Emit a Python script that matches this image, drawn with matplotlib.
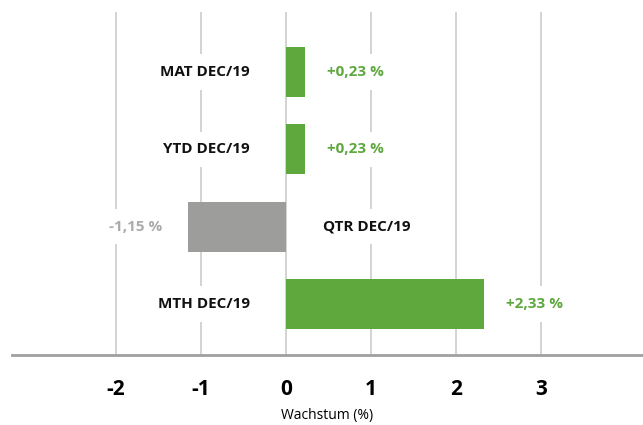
import matplotlib
matplotlib.use("Agg")
import matplotlib.pyplot as plt

categories = ["MTH DEC/19", "QTR DEC/19", "YTD DEC/19", "MAT DEC/19"]
values = [2.33, -1.15, 0.23, 0.23]
value_labels = ["+2,33 %", "-1,15 %", "+0,23 %", "+0,23 %"]
xticks = [-2, -1, 0, 1, 2, 3]
xlabel = "Wachstum (%)"

GREEN = "#5ea83e"
GRAY_BAR = "#9d9d9c"
GRAY_TXT = "#ababab"
GRID = "#c8c8c8"

plt.rcParams['font.family'] = ['Open Sans', 'DejaVu Sans']

fig = plt.figure(figsize=(6.43, 4.25), dpi=100)
ax = fig.add_axes([12/643, 1-355/425, 1-12/643, (355-12)/425])

ypos = list(range(len(categories)))
colors = [GREEN if v >= 0 else GRAY_BAR for v in values]
ax.barh(ypos, values, height=0.65, color=colors, zorder=2)

ax.set_xlim(-3.22, 4.2)
ax.set_ylim(-0.66, 3.776)
ax.set_xticks(xticks)
ax.set_xticklabels([str(t) for t in xticks], fontsize=15, fontweight='bold')
ax.tick_params(axis='x', length=0, pad=17)
ax.set_yticks([])
ax.grid(axis='x', color=GRID, linewidth=1.1, zorder=0)
for s in ['top', 'right', 'left']:
    ax.spines[s].set_visible(False)
ax.spines['bottom'].set_color('#a0a0a0')
ax.spines['bottom'].set_linewidth(2)
ax.set_xlabel(xlabel, fontsize=10, labelpad=6)

box = dict(boxstyle='square,pad=0.7', fc='white', ec='none')
fs = 11
for y, v, cat, lab in zip(ypos, values, categories, value_labels):
    if v >= 0:
        ax.annotate(cat, (0, y), xytext=(-36, 0), textcoords='offset pixels',
                    ha='right', va='center', fontsize=fs, fontweight='bold',
                    color='#111111', bbox=box, zorder=3)
        ax.annotate(lab, (v, y), xytext=(22, 0), textcoords='offset pixels',
                    ha='left', va='center', fontsize=fs, fontweight='bold',
                    color=GREEN, bbox=box, zorder=3)
    else:
        ax.annotate(cat, (0, y), xytext=(37, 0), textcoords='offset pixels',
                    ha='left', va='center', fontsize=fs, fontweight='bold',
                    color='#111111', bbox=box, zorder=3)
        ax.annotate(lab, (v, y), xytext=(-26, 0), textcoords='offset pixels',
                    ha='right', va='center', fontsize=fs, fontweight='bold',
                    color=GRAY_TXT, bbox=box, zorder=3)

fig.savefig("out.png", dpi=100)
